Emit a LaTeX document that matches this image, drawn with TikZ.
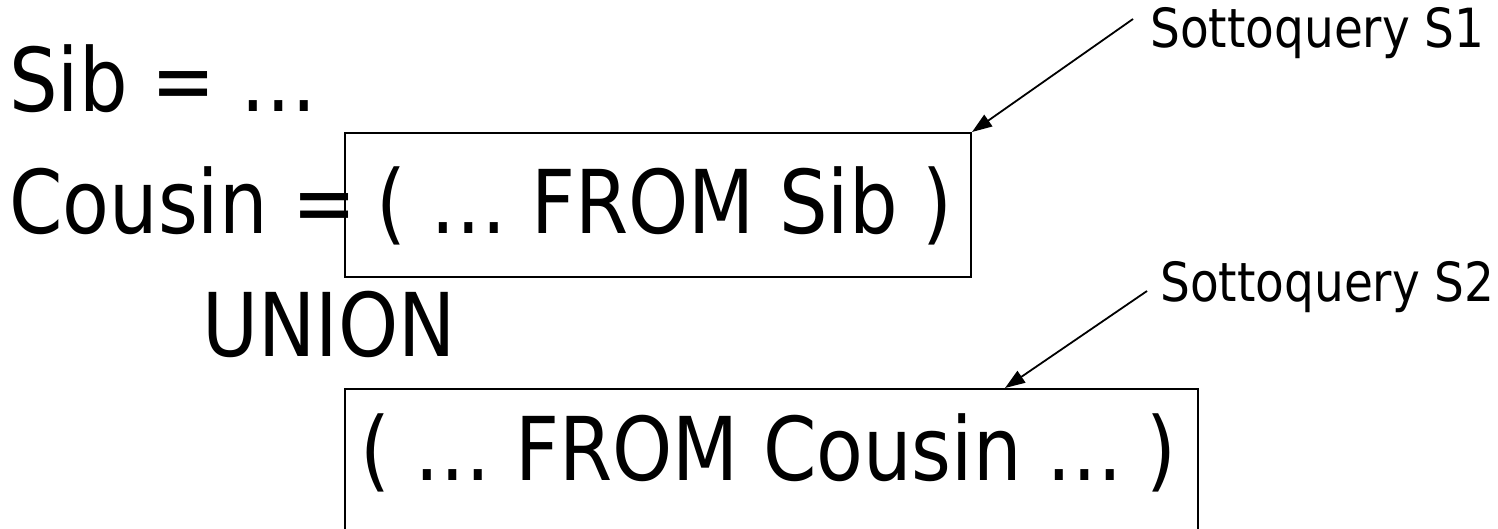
\documentclass[tikz,border=0pt]{standalone}
\usepackage{fontspec}
\setmainfont{DejaVu Sans}[FakeStretch=0.87]
\usetikzlibrary{arrows.meta}

\begin{document}
\begin{tikzpicture}[x=1pt,y=-1pt,
    big/.style={anchor=base west,inner sep=0pt,font=\fontsize{88}{94}\selectfont},
    lab/.style={anchor=base west,inner sep=0pt,font=\fontsize{54}{60}\selectfont},
    qbox/.style={draw,line width=2pt,anchor=north west,inner sep=0pt},
    pointer/.style={-{Triangle[length=20pt,width=14pt]},line width=1.8pt}]
    \useasboundingbox (0,0) rectangle (1498,528);
    \clip (0,0) rectangle (1498,528);

    % query lines
    \node[big] (sib) at (9,111) {Sib = …};
    \node[big] (cousin) at (9,233) {Cousin =};
    \node[big] (union) at (202,356) {UNION};

    % boxed subqueries
    \node[qbox,minimum width=626pt,minimum height=144pt] (s1) at (344,132) {};
    \node[big] (s1text) at (376,233) {( … FROM Sib )};
    \node[qbox,minimum width=853pt,minimum height=170pt] (s2) at (344,388) {};
    \node[big] (s2text) at (360,480) {( … FROM Cousin … )};

    % labels and pointers
    \node[lab] (lab1) at (1150,47) {Sottoquery S1};
    \node[lab] (lab2) at (1160,301) {Sottoquery S2};
    \coordinate (t1) at (1133,19);
    \coordinate (t2) at (1147,291);
    \draw[pointer] (t1) -- (s1.north east);
    \draw[pointer] (t2) -- ([xshift=661pt]s2.north west);
\end{tikzpicture}
\end{document}
